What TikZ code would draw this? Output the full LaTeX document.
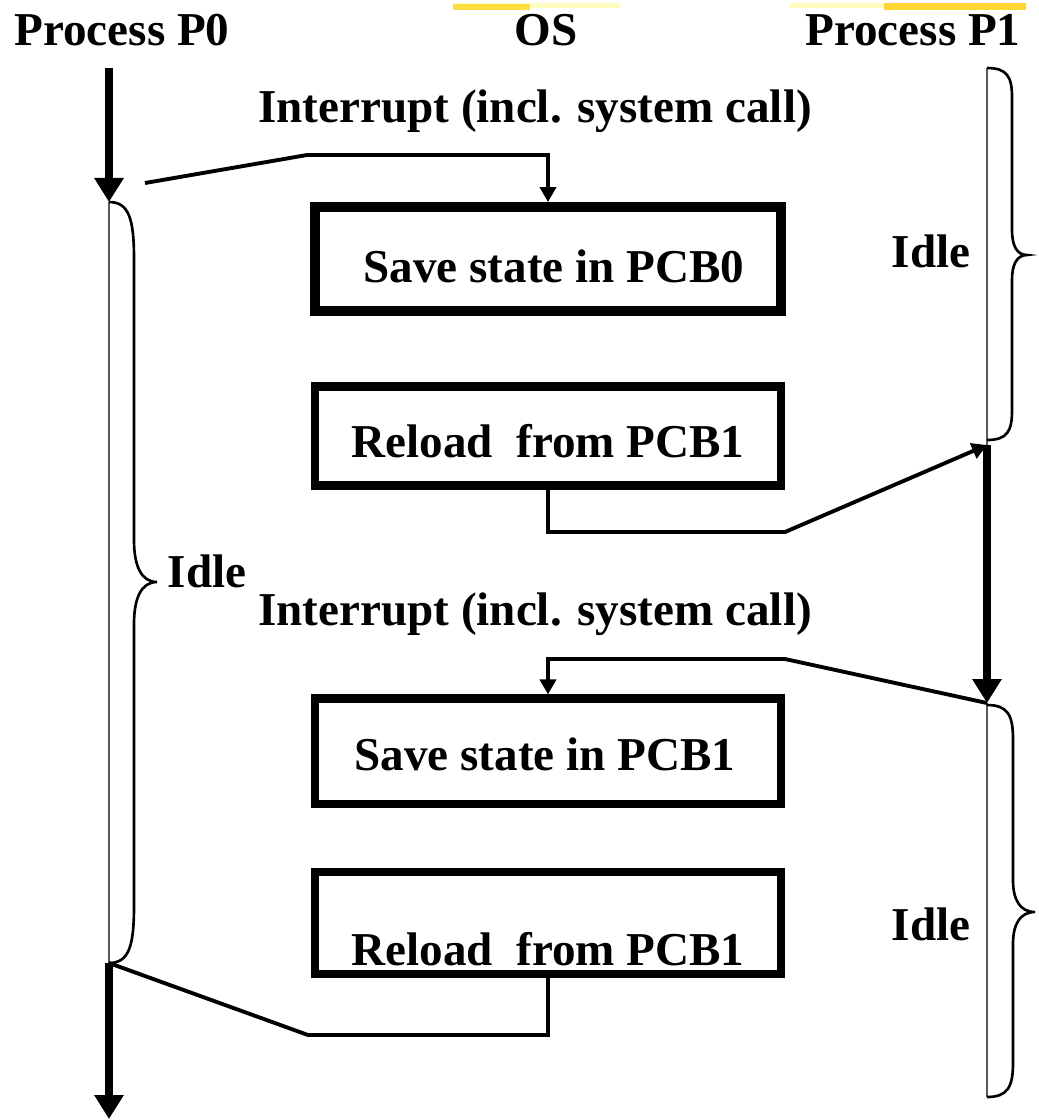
\documentclass[tikz,border=0pt]{standalone}
\usepackage{fontspec}
\setmainfont{Liberation Serif}
\usetikzlibrary{arrows.meta}
\newcommand{\idlebrace}[8]{%
  \draw[bracestyle] (#1,#2) .. controls (#1+0.8*#5,#2) and (#1+#5,#2+0.3*#7) .. (#1+#5,#2+#7)
    -- (#1+#5,#4-#8) .. controls (#1+#5,#4-0.4*#8) and (#1+#5+0.3*#6-0.3*#5,#4) .. (#1+#6,#4)
    .. controls (#1+#5+0.3*#6-0.3*#5,#4) and (#1+#5,#4+0.4*#8) .. (#1+#5,#4+#8)
    -- (#1+#5,#3-#7) .. controls (#1+#5,#3-0.3*#7) and (#1+0.8*#5,#3) .. (#1,#3);}
\begin{document}
\begin{tikzpicture}[x=0.01cm,y=-0.01cm,
  lbl/.style={font=\bfseries\fontsize{13.4}{16}\selectfont, inner sep=0pt, anchor=base},
  box/.style={draw, line width=2.3pt, minimum width=4.66cm, inner sep=0pt},
  thickarrow/.style={line width=2pt, -{Triangle[width=0.28cm,length=0.24cm]}},
  thinline/.style={line width=0.45pt, draw=black!65},
  conn/.style={line width=1.1pt, -{Triangle[width=0.16cm,length=0.15cm]}},
  connplain/.style={line width=1.1pt},
  bracestyle/.style={line width=0.75pt}]
\useasboundingbox (0,0) rectangle (1038,1120);
% scan smudges at the top edge
\fill[yellow!25!white] (453,3) rectangle (620,8);
\fill[orange!35!yellow!75!white] (453,4) rectangle (530,10);
\fill[yellow!25!white] (790,3) rectangle (884,8);
\fill[orange!40!yellow!80!white] (884,3) rectangle (1026,10);
% headings
\node[lbl] (hp0) at (122,45) {Process P0};
\node[lbl] (hos) at (546,45) {OS};
\node[lbl] (hp1) at (913,45) {Process P1};
% interrupt labels
\node[lbl] (int1) at (535,122) {Interrupt (incl. system call)};
\node[lbl] (int2) at (535,625) {Interrupt (incl. system call)};
% OS boxes
\node[box, line width=2.8pt, minimum height=1.04cm] (b1) at (548,259) {};
\node[box, minimum height=0.99cm] (b2) at (548,436) {};
\node[box, minimum height=1.05cm] (b3) at (548,751) {};
\node[box, minimum height=1.02cm] (b4) at (548,923) {};
\node[lbl] (t1) at (554,282) {Save state in PCB0};
\node[lbl] (t2) at (548,457) {Reload\ \ from PCB1};
\node[lbl] (t3) at (545,770) {Save state in PCB1};
\node[lbl] (t4) at (548,965) {Reload\ \ from PCB1};
% idle labels
\node[lbl] (idle0) at (207,587) {Idle};
\node[lbl] (idle1) at (931,267) {Idle};
\node[lbl] (idle2) at (931,940) {Idle};
% timeline points
\coordinate (p0top) at (109,68);
\coordinate (p0s) at (109,202);
\coordinate (p0r) at (109,963);
\coordinate (p0end) at (109,1119);
\coordinate (p1top) at (987,68);
\coordinate (p1r) at (987,445);
\coordinate (p1s) at (987,703);
\coordinate (p1end) at (987,1097);
\coordinate (c1start) at (145,183);
% timelines
\draw[thickarrow] (p0top) -- (p0s);
\draw[thinline] (p0s) -- (p0r);
\draw[thickarrow] (p0r) -- (p0end);
\draw[thinline] (p1top) -- (p1r);
\draw[thickarrow] (p1r) -- (p1s);
\draw[thinline] (p1s) -- (p1end);
% braces
\idlebrace{109}{202}{963}{582}{25}{48}{57}{42}
\idlebrace{987}{68}{440}{255}{25}{40}{29}{25}
\idlebrace{987}{705}{1097}{912}{26}{48}{34}{32}
% connectors
\draw[conn] (c1start) -- (307,155) -- (548,155) -- (b1.north);
\draw[conn] (b2.south) -- (548,532) -- (785,532) -- (p1r);
\draw[conn] (p1s) -- (785,659) -- (548,659) -- (b3.north);
\draw[connplain] (b4.south) -- (548,1035) -- (308,1035) -- (p0r);
\end{tikzpicture}
\end{document}
